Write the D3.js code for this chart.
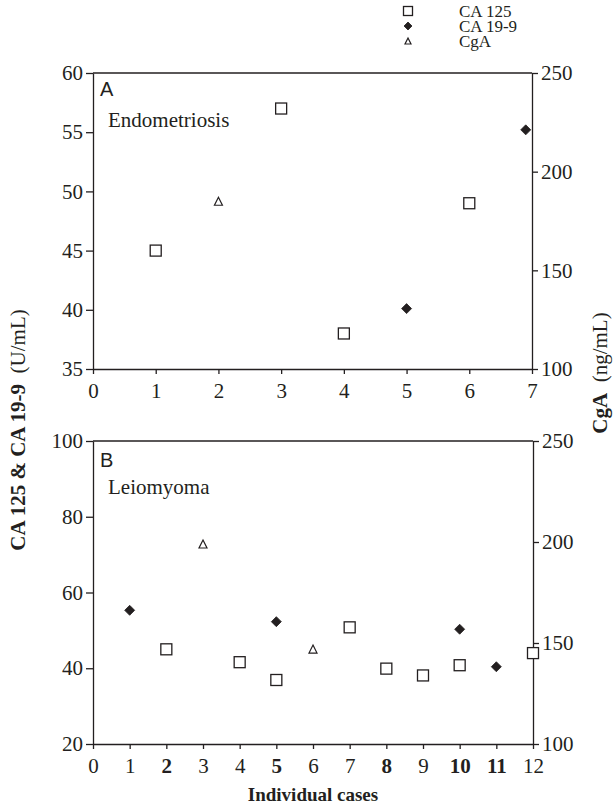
<!DOCTYPE html>
<html>
<head>
<meta charset="utf-8">
<script src="https://cdn.jsdelivr.net/npm/d3@7"></script>
<style>
  body { margin: 0; background: #fff; }
  svg { display: block; }
  text { font-family: "Liberation Serif", "Times New Roman", serif; fill: #231f20; }
  .domain, .tick line { stroke: #231f20; stroke-width: 1.3; }
</style>
</head>
<body>
<script>
// 图 A: Endometriosis
const aCa125Cases = [1, 3, 4, 6];
const aCa125Values = [45, 57, 38, 49];
const aCa199Cases = [5, 6.9];
const aCa199Values = [40.1, 55.2];
const aCgaCases = [2];
const aCgaValues = [185];

// 图 B: Leiomyoma
const bCa125Cases = [2, 4, 5, 7, 8, 9, 10, 12];
const bCa125Values = [45, 41.6, 36.9, 50.8, 39.9, 38.1, 40.8, 44];
const bCa199Cases = [1, 5, 10, 11];
const bCa199Values = [55.3, 52.3, 50.3, 40.4];
const bCgaCases = [3, 6];
const bCgaValues = [199, 147];

// 坐标轴刻度
const aLeftTicks = [35, 40, 45, 50, 55, 60];
const aRightTicks = [100, 150, 200, 250];
const aXTicks = [0, 1, 2, 3, 4, 5, 6, 7];
const bLeftTicks = [20, 40, 60, 80, 100];
const bRightTicks = [100, 150, 200, 250];
const bXTicks = [0, 1, 2, 3, 4, 5, 6, 7, 8, 9, 10, 11, 12];
const bBoldTicks = [2, 5, 8, 10, 11];

const legendNames = ["CA 125", "CA 19-9", "CgA"];
const ink = "#231f20";

const width = 614, height = 805;
const svg = d3.select("body").append("svg").attr("width", width).attr("height", height);

const zip = (xs, ys) => xs.map((x, i) => ({ x: x, y: ys[i] }));

// 画标记
function drawMarker(g, type, size) {
    if (type === "square") {
        g.append("rect").attr("x", -size / 2).attr("y", -size / 2).attr("width", size).attr("height", size)
            .attr("fill", "#fff").attr("stroke", ink).attr("stroke-width", 1.3);
    } else if (type === "diamond") {
        g.append("path").attr("d", `M0,${-size / 2}L${size / 2},0L0,${size / 2}L${-size / 2},0Z`)
            .attr("fill", ink).attr("stroke", ink).attr("stroke-width", 0.8);
    } else {
        g.append("path").attr("d", `M0,${-size / 2}L${size * 0.5},${size / 2}L${-size * 0.5},${size / 2}Z`)
            .attr("fill", "#fff").attr("stroke", ink).attr("stroke-width", 1.2);
    }
}

function plotPoints(chart, pts, x, y, type, size) {
    chart.append("g").selectAll("g").data(pts).join("g")
        .attr("transform", d => `translate(${x(d.x)},${y(d.y)})`)
        .each(function () { drawMarker(d3.select(this), type, size); });
}

// 创建一个面板
function createPanel(option) {
    const { top, bottom, left, right, xDomain, leftDomain, rightDomain, xTicks, leftTicks, rightTicks,
        boldTicks, series, letter, letterY, title, titleY } = option;

    const x = d3.scaleLinear().domain(xDomain).range([left, right]);
    const yL = d3.scaleLinear().domain(leftDomain).range([bottom, top]);
    const yR = d3.scaleLinear().domain(rightDomain).range([bottom, top]);

    const chart = svg.append("g");

    // 上边框
    chart.append("line").attr("x1", left).attr("x2", right).attr("y1", top).attr("y2", top)
        .attr("stroke", ink).attr("stroke-width", 1.3);

    const gx = chart.append("g").attr("transform", `translate(0,${bottom})`)
        .call(d3.axisBottom(x).tickValues(xTicks).tickFormat(d3.format("d")).tickSize(5).tickSizeOuter(0).tickPadding(9));
    gx.selectAll(".tick text").attr("font-size", 21)
        .attr("font-weight", d => boldTicks.includes(d) ? "bold" : "normal");

    const gy = chart.append("g").attr("transform", `translate(${left},0)`)
        .call(d3.axisLeft(yL).tickValues(leftTicks).tickSize(7).tickSizeOuter(0).tickPadding(3));
    gy.selectAll(".tick text").attr("font-size", 21);

    const gr = chart.append("g").attr("transform", `translate(${right},0)`)
        .call(d3.axisRight(yR).tickValues(rightTicks).tickSize(6).tickSizeOuter(0).tickPadding(3));
    gr.selectAll(".tick text").attr("font-size", 21);

    chart.selectAll("text").attr("fill", ink);

    plotPoints(chart, series.ca125, x, yL, "square", 11);
    plotPoints(chart, series.ca199, x, yL, "diamond", 10);
    plotPoints(chart, series.cga, x, yR, "triangle", 8);

    chart.append("text").text(letter).attr("x", left + 7).attr("y", letterY)
        .style("font-family", "'Liberation Sans', Arial, sans-serif").attr("font-size", 20);
    chart.append("text").text(title).attr("x", left + 15).attr("y", titleY).attr("font-size", 21);
}

createPanel({
    top: 73, bottom: 369, left: 93, right: 532,
    xDomain: [0, 7], leftDomain: [35, 60], rightDomain: [100, 250],
    xTicks: aXTicks, leftTicks: aLeftTicks, rightTicks: aRightTicks, boldTicks: [],
    series: { ca125: zip(aCa125Cases, aCa125Values), ca199: zip(aCa199Cases, aCa199Values), cga: zip(aCgaCases, aCgaValues) },
    letter: "A", letterY: 96, title: "Endometriosis", titleY: 127
});

createPanel({
    top: 441, bottom: 744, left: 93, right: 533,
    xDomain: [0, 12], leftDomain: [20, 100], rightDomain: [100, 250],
    xTicks: bXTicks, leftTicks: bLeftTicks, rightTicks: bRightTicks, boldTicks: bBoldTicks,
    series: { ca125: zip(bCa125Cases, bCa125Values), ca199: zip(bCa199Cases, bCa199Values), cga: zip(bCgaCases, bCgaValues) },
    letter: "B", letterY: 467, title: "Leiomyoma", titleY: 494
});

// 图例
const legend = svg.append("g").selectAll("g").data(legendNames).join("g")
    .attr("transform", (d, i) => `translate(408,${11 + i * 15})`);
legend.each(function (d, i) {
    drawMarker(d3.select(this), ["square", "diamond", "triangle"][i], [9, 8, 6][i]);
});
legend.append("text").text(d => d).attr("x", 51).attr("y", 6).attr("font-size", 17);

// 轴标题
const leftTitle = svg.append("text").attr("transform", "translate(25,430) rotate(-90)")
    .attr("text-anchor", "middle").attr("font-size", 21);
leftTitle.append("tspan").attr("font-weight", "bold").text("CA 125 & CA 19-9");
leftTitle.append("tspan").text("\u00a0\u00a0(U/mL)");

const rightTitle = svg.append("text").attr("transform", "translate(607,373) rotate(-90)")
    .attr("text-anchor", "middle").attr("font-size", 21);
rightTitle.append("tspan").attr("font-weight", "bold").text("CgA");
rightTitle.append("tspan").text("\u00a0\u00a0(ng/mL)");

svg.append("text").text("Individual cases").attr("x", 313).attr("y", 801)
    .attr("text-anchor", "middle").attr("font-weight", "bold").attr("font-size", 19);
</script>
</body>
</html>
